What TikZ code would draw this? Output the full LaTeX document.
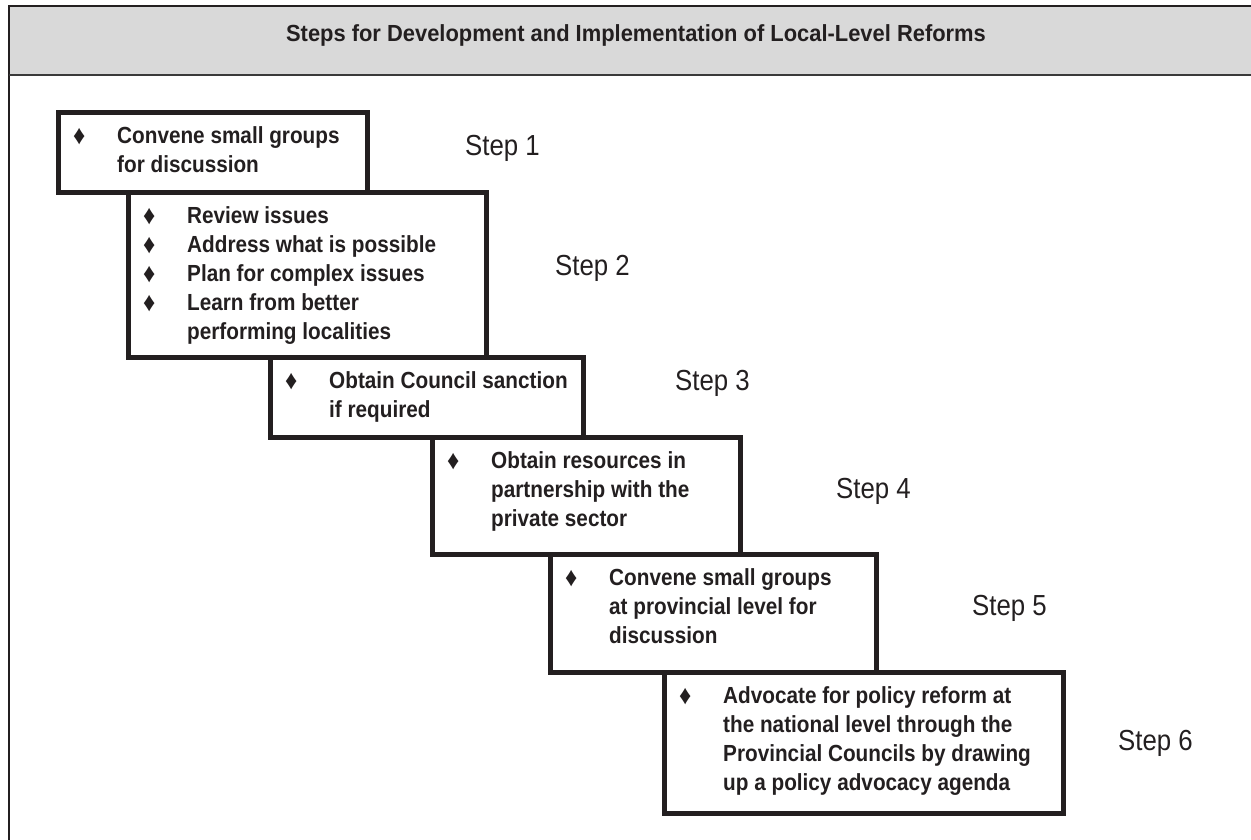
\documentclass[tikz,border=0pt]{standalone}
\usepackage{fontspec}
\setmainfont{Liberation Sans}[FakeStretch=0.89]
\newfontfamily\titlefont{Liberation Sans}[FakeStretch=0.94]
\usetikzlibrary{positioning,calc}
\definecolor{ink}{HTML}{231F20}
\definecolor{headgray}{HTML}{D9D9D9}
\definecolor{rulegray}{HTML}{3A3A3A}
\newcommand{\bul}{\raisebox{-1pt}{\fontsize{27}{27}\selectfont\char"2666}}
\newcommand{\steplist}[1]{\begin{tabular}{@{}p{44pt}@{}l@{}}#1\end{tabular}}
\tikzset{
  frame/.style={draw=ink, line width=2pt},
  headrule/.style={draw=rulegray, line width=2pt},
  title/.style={
    font=\titlefont\fontsize{23.3}{23.3}\selectfont\bfseries,
    text=ink,
    inner sep=0pt
  },
  stepbox/.style={
    draw=ink,
    line width=5pt,
    fill=white,
    inner sep=0pt,
    anchor=north west
  },
  itemlist/.style={
    font=\fontsize{23.3}{29}\selectfont\bfseries,
    text=ink,
    inner sep=0pt,
    anchor=north west
  },
  steplabel/.style={
    font=\fontsize{29}{29}\selectfont,
    text=ink,
    inner sep=0pt,
    anchor=west
  }
}

\begin{document}
\begin{tikzpicture}[x=1pt,y=-1pt]
\useasboundingbox (0,0) rectangle (1251,840);

% header band and frame
\fill[headgray] (9,6) rectangle (1251,75);
\draw[frame] (9,840) -- (9,6) -- (1251,6);
\draw[headrule] (9,75) -- (1251,75);
\node[title, anchor=base] (title) at (636,42) {Steps for Development and Implementation of Local-Level Reforms};

% the staircase of boxes
\node[stepbox, minimum width=309, minimum height=79.5] (box1) at (55.5,110.5) {};
\node[stepbox, minimum width=358, minimum height=165] (box2) at (125.5,190) {};
\node[stepbox, minimum width=313, minimum height=80] (box3) at (267.5,355) {};
\node[stepbox, minimum width=308, minimum height=117] (box4) at (429.5,435) {};
\node[stepbox, minimum width=326, minimum height=118] (box5) at (547.5,552) {};
\node[stepbox, minimum width=399, minimum height=141] (box6) at (661.5,670) {};

% box contents
\node[itemlist] (list1) at ($(box1.north west)+(17.5,13)$)
  {\steplist{\bul & Convene small groups\\ & for discussion}};
\node[itemlist] (list2) at ($(box2.north west)+(17.5,13)$)
  {\steplist{\bul & Review issues\\ \bul & Address what is possible\\
   \bul & Plan for complex issues\\ \bul & Learn from better\\ & performing localities}};
\node[itemlist] (list3) at ($(box3.north west)+(17.5,13)$)
  {\steplist{\bul & Obtain Council sanction\\ & if required}};
\node[itemlist] (list4) at ($(box4.north west)+(17.5,13)$)
  {\steplist{\bul & Obtain resources in\\ & partnership with the\\ & private sector}};
\node[itemlist] (list5) at ($(box5.north west)+(17.5,13)$)
  {\steplist{\bul & Convene small groups\\ & at provincial level for\\ & discussion}};
\node[itemlist] (list6) at ($(box6.north west)+(17.5,13)$)
  {\steplist{\bul & Advocate for policy reform at\\ & the national level through the\\
   & Provincial Councils by drawing\\ & up a policy advocacy agenda}};

% step labels
\node[steplabel] (step1) at (465,148) {Step 1};
\node[steplabel] (step2) at (555,268) {Step 2};
\node[steplabel] (step3) at (675,383) {Step 3};
\node[steplabel] (step4) at (836,491) {Step 4};
\node[steplabel] (step5) at (972,608) {Step 5};
\node[steplabel] (step6) at (1118,743) {Step 6};

\end{tikzpicture}
\end{document}
